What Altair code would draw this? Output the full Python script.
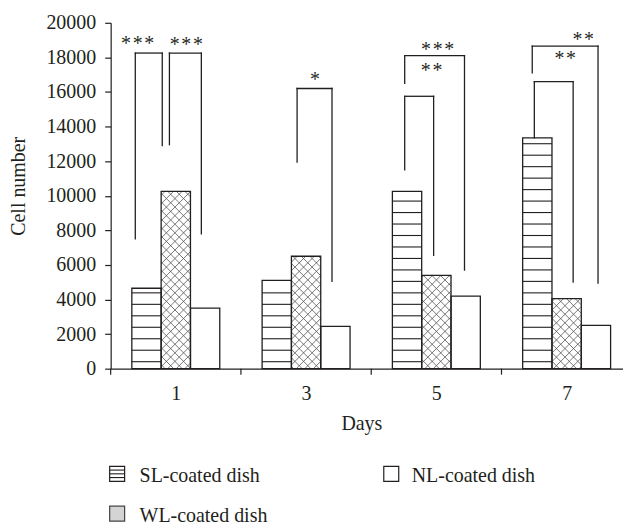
import altair as alt
import pandas as pd

# ---------------- data ----------------
days = ["1", "3", "5", "7"]
series = ["SL-coated dish", "WL-coated dish", "NL-coated dish"]
sl_values = [4650, 5100, 10250, 13350]
wl_values = [10250, 6500, 5400, 4050]
nl_values = [3500, 2450, 4200, 2500]

# significance brackets (x in axis units: day i spans i..i+1)
br_xl = [0.189, 0.451, 1.431, 2.257, 2.257, 3.252, 3.236]
br_xr = [0.396, 0.696, 1.699, 2.479, 2.716, 3.550, 3.741]
br_foot_l = [7500, 12950, 11950, 11500, 16500, 13350, 17100]
br_top = [18250, 18250, 16200, 15750, 18100, 16600, 18650]
br_foot_r = [12900, 7800, 5050, 6550, 5700, 5000, 4950]
br_stars = ["***", "***", "*", "**", "***", "**", "**"]
br_star_x = [0.207, 0.581, 1.568, 2.464, 2.510, 3.489, 3.627]
br_star_y = [18905, 18850, 16830, 17350, 18560, 18040, 19135]

y_ticks = list(range(0, 20001, 2000))

# ---------------- style / layout ----------------
FONT = "Liberation Serif"
INK = "#231f20"
FS = 20
W, H = 514, 347
PX_X = 130.7
XMAX = W / PX_X
YMAX = 20000
BAR_W = 0.225

X_SCALE = alt.Scale(domain=[0, XMAX], nice=False, zero=False)
Y_SCALE = alt.Scale(domain=[0, YMAX], nice=False)
X_AXIS = alt.Axis(
    values=[0.5, 1.5, 2.5, 3.5],
    labelExpr="['1','3','5','7'][floor(datum.value)]",
    ticks=False, tickSize=0, grid=False,
    labelPadding=31, labelBaseline="alphabetic",
    title="Days", titleX=251.5, titleY=61, titleBaseline="alphabetic",
    titleAlign="center", titleAnchor="start",
)
Y_AXIS = alt.Axis(
    values=y_ticks, format="d", grid=False, tickSize=6, labelPadding=9,
    title="Cell number", titleAngle=-90, titleX=-86, titleY=163.5,
    titleAlign="center", titleBaseline="alphabetic", titleAnchor="start",
)

# ---------------- derived tables ----------------
all_vals = [sl_values, wl_values, nl_values]
bars = []
for i, d in enumerate(days):
    for j, s in enumerate(series):
        x0 = i + 0.5 + (j - 1) * BAR_W - BAR_W / 2
        bars.append({"day": d, "series": s, "x0": x0, "x1": x0 + BAR_W,
                     "v": all_vals[j][i], "zero": 0})
bars_df = pd.DataFrame(bars)

# horizontal stripes in SL bars
stripes = []
for b in bars:
    if b["series"] != series[0]:
        continue
    k = 0
    while True:
        yv = 403 + 663.4 * k
        if yv > b["v"] - 150:
            break
        stripes.append({"x": b["x0"], "x2": b["x1"], "y": yv})
        k += 1
stripes_df = pd.DataFrame(stripes)

# crosshatch in WL bars (45 degree lines in pixel space)
S = 8.6
hatch = []
for b in bars:
    if b["series"] != series[1]:
        continue
    X0, X1 = b["x0"] * PX_X, b["x1"] * PX_X
    Ya, Yb = H * (1 - b["v"] / YMAX), H
    def add(xa, ya, xb, yb):
        hatch.append({"x": xa / PX_X, "x2": xb / PX_X,
                      "y": (1 - ya / H) * YMAX, "y2": (1 - yb / H) * YMAX})
    kmin = int((X0 + Ya) // S) - 1
    kmax = int((X1 + Yb) // S) + 2
    for k in range(kmin, kmax):
        c = k * S
        lo, hi = max(X0, c - Yb), min(X1, c - Ya)
        if hi - lo > 0.3:
            add(lo, c - lo, hi, c - hi)
    kmin = int((X0 - Yb) // S) - 1
    kmax = int((X1 - Ya) // S) + 2
    for k in range(kmin, kmax):
        c = k * S
        lo, hi = max(X0, Ya + c), min(X1, Yb + c)
        if hi - lo > 0.3:
            add(lo, lo - c, hi, hi - c)
hatch_df = pd.DataFrame(hatch)

segs = []
for a in range(len(br_xl)):
    segs.append({"x": br_xl[a], "x2": br_xl[a], "y": br_foot_l[a], "y2": br_top[a]})
    segs.append({"x": br_xl[a], "x2": br_xr[a], "y": br_top[a], "y2": br_top[a]})
    segs.append({"x": br_xr[a], "x2": br_xr[a], "y": br_top[a], "y2": br_foot_r[a]})
segs_df = pd.DataFrame(segs)

stars_df = pd.DataFrame({
    "x": br_star_x, "y": br_star_y,
    "t": ["\u200a".join(list(s)) for s in br_stars],
})

bounds_df = pd.DataFrame({"x": [0, 1, 2, 3]})

# ---------------- layers ----------------
def xq(field="x"):
    return alt.X(f"{field}:Q", scale=X_SCALE, axis=X_AXIS)

def yq(field="y"):
    return alt.Y(f"{field}:Q", scale=Y_SCALE, axis=Y_AXIS)

bar_fill = alt.Chart(bars_df).mark_rect(fill="white", stroke=None).encode(
    x=xq("x0"), x2="x1:Q", y=yq("zero"), y2="v:Q")

stripe_layer = alt.Chart(stripes_df).mark_rule(color=INK, strokeWidth=1.1).encode(
    x=xq(), x2="x2:Q", y=yq(), y2="y:Q")

hatch_layer = alt.Chart(hatch_df).mark_rule(color="#555555", strokeWidth=0.8).encode(
    x=xq(), x2="x2:Q", y=yq(), y2="y2:Q")

bar_outline = alt.Chart(bars_df).mark_rect(
    fill="white", fillOpacity=0, stroke=INK, strokeWidth=1.3).encode(
    x=xq("x0"), x2="x1:Q", y=yq("zero"), y2="v:Q")

bound_ticks = alt.Chart(bounds_df).mark_rule(color=INK, strokeWidth=1.2).encode(
    x=xq(), y=alt.value(H), y2=alt.value(H + 6))

bracket_layer = alt.Chart(segs_df).mark_rule(
    color=INK, strokeWidth=1.3, strokeCap="square").encode(
    x=xq(), x2="x2:Q", y=yq(), y2="y2:Q")

star_layer = alt.Chart(stars_df).mark_text(
    font=FONT, fontSize=FS, color=INK, baseline="middle", align="center", dy=2).encode(
    x=xq(), y=yq(), text="t:N")

# ---------------- custom legend ----------------
one = pd.DataFrame({"a": [0]})
LEG = []
# SL symbol: box with horizontal lines
LEG.append(alt.Chart(one).mark_rect(fill="white", stroke=INK, strokeWidth=1.2).encode(
    x=alt.value(-1), x2=alt.value(14), y=alt.value(445), y2=alt.value(460)))
for yy in [448.75, 452.5, 456.25]:
    LEG.append(alt.Chart(one).mark_rule(color=INK, strokeWidth=1.1).encode(
        x=alt.value(-1), x2=alt.value(14), y=alt.value(yy)))
# WL symbol: stippled grey box
LEG.append(alt.Chart(one).mark_rect(fill="#d4d4d4", stroke="#444444", strokeWidth=1.2).encode(
    x=alt.value(-1), x2=alt.value(14), y=alt.value(485), y2=alt.value(500)))
# NL symbol: empty box
LEG.append(alt.Chart(one).mark_rect(fill="white", stroke=INK, strokeWidth=1.2).encode(
    x=alt.value(274), x2=alt.value(289), y=alt.value(445), y2=alt.value(460)))

leg_pos = [(29, 461), (29, 501), (302, 461)]
for s, (lx, ly) in zip(series, leg_pos):
    LEG.append(alt.Chart(pd.DataFrame({"t": [s]})).mark_text(
        font=FONT, fontSize=FS, color=INK, align="left", baseline="alphabetic").encode(
        x=alt.value(lx), y=alt.value(ly), text="t:N"))

chart = alt.layer(
    bar_fill, stripe_layer, hatch_layer, bar_outline, bound_ticks,
    bracket_layer, star_layer, *LEG
).properties(
    width=W, height=H,
    padding={"left": 103, "top": 14, "right": 0, "bottom": 156},
    autosize=alt.AutoSizeParams(type="none"),
).configure_view(stroke=None).configure_axis(
    domainColor=INK, domainWidth=1.2, tickColor=INK, tickWidth=1.2,
    labelFont=FONT, labelFontSize=FS, labelColor=INK,
    titleFont=FONT, titleFontSize=FS, titleColor=INK, titleFontWeight="normal",
)

chart.save("out.html", embed_options={"renderer": "svg", "actions": False})
